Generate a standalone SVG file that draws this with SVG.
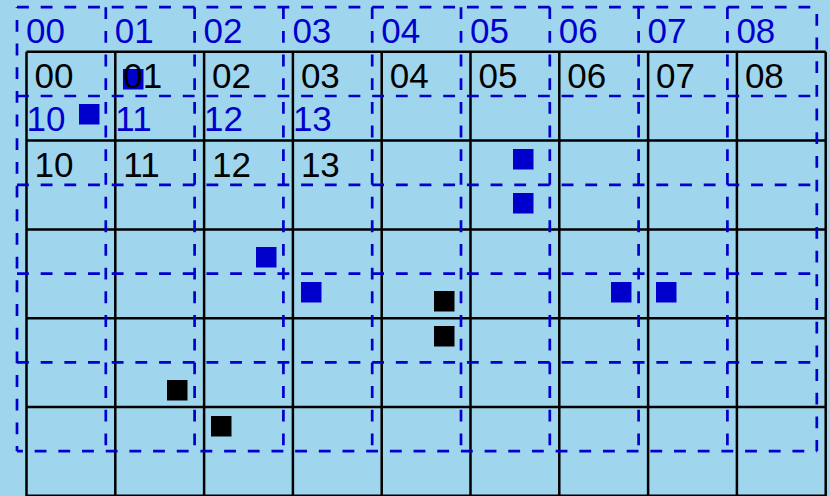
<svg xmlns="http://www.w3.org/2000/svg" width="830" height="496" viewBox="0 0 830 496">
<style>
.g{fill:none;stroke:#000;stroke-width:2.5}
.d{fill:none;stroke:#0000cc;stroke-width:2.7;stroke-dasharray:11.84 11.84}
.bt{font-family:"Liberation Sans",Arial,sans-serif;font-size:35px;fill:#000}
.blt{font-family:"Liberation Sans",Arial,sans-serif;font-size:35px;fill:#0000cc}
.bsq{fill:#0000cc}
.ksq{fill:#000}
</style>
<rect width="830" height="496" fill="#9fd6ee"/>
<g id="grid" class="g">
<path d="M26.5 51.8H825.7M26.5 140.6H825.7M26.5 229.4H825.7M26.5 318.2H825.7M26.5 407H825.7M26.5 495.8H825.7"/>
<path d="M26.5 51.8V496M115.3 51.8V496M204.1 51.8V496M292.9 51.8V496M381.7 51.8V496M470.5 51.8V496M559.3 51.8V496M648.1 51.8V496M736.9 51.8V496M825.7 51.8V496"/>
</g>
<g id="dashed-grid" class="d">
<path d="M17 7.2H816.8M17 96H816.8M17 184.8H816.8M17 273.6H816.8M17 362.4H816.8"/>
<path d="M17 451.2H816.8" stroke-dashoffset="6"/>
<path d="M105.8 7.2V451.2M194.6 7.2V451.2M283.4 7.2V451.2M372.2 7.2V451.2M461 7.2V451.2M549.8 7.2V451.2M638.6 7.2V451.2M727.4 7.2V451.2"/>
<path d="M17 7.2V451.2" stroke-dashoffset="11"/>
<path d="M816.8 7.2V451.2" stroke-dashoffset="17"/>
</g>
<g id="markers">
<rect class="bsq" x="79" y="104" width="20.5" height="20.5"/>
<rect class="bsq" x="123" y="69" width="20.5" height="20.5"/>
<rect class="bsq" x="513" y="149" width="20.5" height="20.5"/>
<rect class="bsq" x="513" y="193" width="20.5" height="20.5"/>
<rect class="bsq" x="256" y="247" width="20.5" height="20.5"/>
<rect class="bsq" x="301" y="282" width="20.5" height="20.5"/>
<rect class="bsq" x="611" y="282" width="20.5" height="20.5"/>
<rect class="bsq" x="656" y="282" width="20.5" height="20.5"/>
<rect class="ksq" x="167" y="380" width="20.5" height="20.5"/>
<rect class="ksq" x="211" y="416" width="20.5" height="20.5"/>
<rect class="ksq" x="434" y="291" width="20.5" height="20.5"/>
<rect class="ksq" x="434" y="326" width="20.5" height="20.5"/>
</g>
<g id="blue-labels">
<text class="blt" x="26" y="42.5">00</text><text class="blt" x="114.8" y="42.5">01</text><text class="blt" x="203.6" y="42.5">02</text><text class="blt" x="292.4" y="42.5">03</text><text class="blt" x="381.2" y="42.5">04</text><text class="blt" x="470" y="42.5">05</text><text class="blt" x="558.8" y="42.5">06</text><text class="blt" x="647.6" y="42.5">07</text><text class="blt" x="736.4" y="42.5">08</text>
<text class="blt" x="26.5" y="131">10</text><text class="blt" x="115.3" y="131">11</text><text class="blt" x="204.1" y="131">12</text><text class="blt" x="292.9" y="131">13</text>
</g>
<g id="black-labels">
<text class="bt" x="34.5" y="87.5">00</text><text class="bt" x="123.3" y="87.5">01</text><text class="bt" x="212.1" y="87.5">02</text><text class="bt" x="300.9" y="87.5">03</text><text class="bt" x="389.7" y="87.5">04</text><text class="bt" x="478.5" y="87.5">05</text><text class="bt" x="567.3" y="87.5">06</text><text class="bt" x="656.1" y="87.5">07</text><text class="bt" x="744.9" y="87.5">08</text>
<text class="bt" x="34.5" y="176.5">10</text><text class="bt" x="123.3" y="176.5">11</text><text class="bt" x="212.1" y="176.5">12</text><text class="bt" x="300.9" y="176.5">13</text>
</g>
</svg>
